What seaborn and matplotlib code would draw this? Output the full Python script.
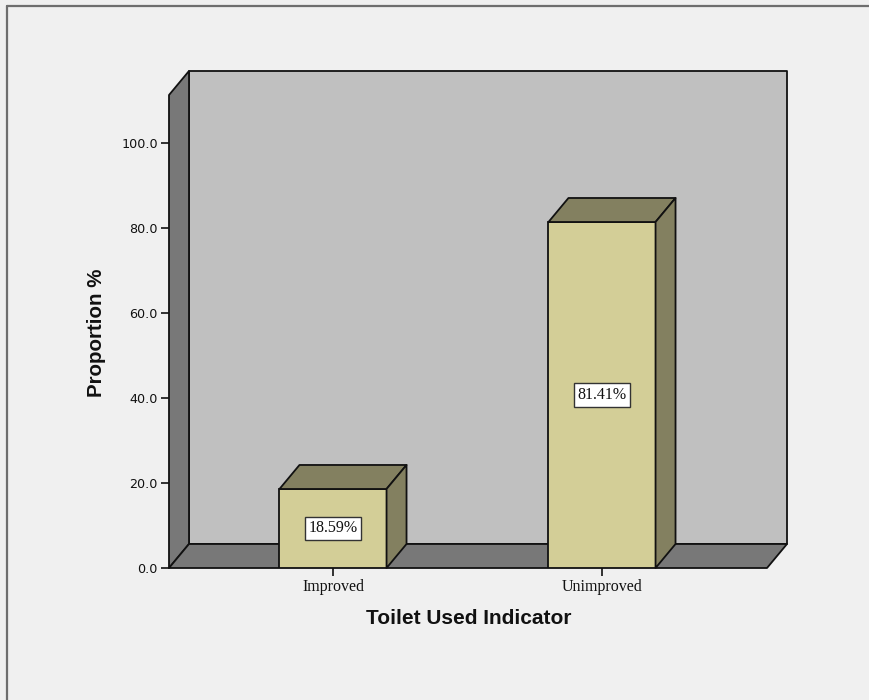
import matplotlib
matplotlib.use("Agg")
import matplotlib.pyplot as plt
from matplotlib.patches import Polygon
from matplotlib.lines import Line2D
import seaborn as sns
import pandas as pd

# Data
categories = ["Improved", "Unimproved"]
proportions = [18.59, 81.41]
y_ticks = [0, 20, 40, 60, 80, 100]

# Colours
bg = "#f0f0f0"
wall_back = "#c0c0c0"
wall_dark = "#787878"
bar_front = "#d3ce97"
bar_shade = "#838060"

sns.set_theme(style="white")
plt.rcParams["font.family"] = ["DejaVu Sans"]

fig = plt.figure(figsize=(8.69, 7.0), dpi=100, facecolor=bg)
ax = fig.add_axes([169 / 869, (700 - 568) / 700, 618 / 869, 497 / 700])
ax.set_facecolor("none")

bar_w = 0.398
dx, dy = 0.0743, 5.65
x_lo, x_hi = -0.6097, 1.6877
y_top = 116.94
floor_right = 1.6134

df = pd.DataFrame({"Toilet Used Indicator": categories, "Proportion %": proportions})
sns.barplot(data=df, x="Toilet Used Indicator", y="Proportion %", width=bar_w,
            color=bar_front, saturation=1, edgecolor="#111111", linewidth=1.3, ax=ax)
for p in ax.patches:
    p.set_zorder(5)

ax.set_xlim(x_lo, x_hi)
ax.set_ylim(0, y_top)

ek = dict(edgecolor="#111111", linewidth=1.3, clip_on=False, joinstyle="round")
# back wall
ax.add_patch(Polygon([(x_lo + dx, dy), (x_hi, dy), (x_hi, y_top), (x_lo + dx, y_top)],
                     facecolor=wall_back, zorder=1, **ek))
# left side wall
ax.add_patch(Polygon([(x_lo, 0), (x_lo + dx, dy), (x_lo + dx, y_top), (x_lo, y_top - dy)],
                     facecolor=wall_dark, zorder=2, **ek))
# floor
ax.add_patch(Polygon([(x_lo, 0), (floor_right, 0), (x_hi, dy), (x_lo + dx, dy)],
                     facecolor=wall_dark, zorder=2, **ek))

# top and side faces of each bar, plus value labels
for i, v in enumerate(proportions):
    x0, x1 = i - bar_w / 2, i + bar_w / 2
    ax.add_patch(Polygon([(x0, v), (x1, v), (x1 + dx, v + dy), (x0 + dx, v + dy)],
                         facecolor=bar_shade, zorder=5, **ek))
    ax.add_patch(Polygon([(x1, 0), (x1 + dx, dy), (x1 + dx, v + dy), (x1, v)],
                         facecolor=bar_shade, zorder=5, **ek))
    ax.text(i, v / 2, f"{v:.2f}%", ha="center", va="center", zorder=6,
            family="Liberation Serif", fontsize=11.5, color="#111111",
            bbox=dict(boxstyle="square,pad=0.22", facecolor="white",
                      edgecolor="#333333", linewidth=1.0))

for s in ax.spines.values():
    s.set_visible(False)

ax.set_yticks(y_ticks)
ax.set_yticklabels([f"{t:.1f}" for t in y_ticks], fontsize=9.2, color="#111111")
ax.set_xticks(range(len(categories)))
ax.set_xticklabels(categories, family="Liberation Serif", fontsize=11.5, color="#111111")
ax.tick_params(axis="both", direction="out", length=6, width=1.2, color="#111111",
               left=True, bottom=True, pad=2)

ax.set_ylabel("Proportion %", family="Liberation Sans", fontweight="bold",
              fontsize=14.8, va="center", color="#111111")
ax.set_xlabel("Toilet Used Indicator", family="Liberation Sans", fontweight="bold",
              fontsize=15, va="center", color="#111111")
ax.yaxis.set_label_coords((97 - 169) / 618, (568 - 333) / 497)
ax.xaxis.set_label_coords((469 - 169) / 618, (568 - 619) / 497)

# outer frame (top and left)
fig.add_artist(Line2D([7.5 / 869, 7.5 / 869], [0, 1 - 6 / 700], transform=fig.transFigure,
                      color="#6e6e6e", linewidth=1.6))
fig.add_artist(Line2D([7 / 869, 1], [1 - 6 / 700, 1 - 6 / 700], transform=fig.transFigure,
                      color="#6e6e6e", linewidth=1.6))

fig.savefig("out.png", dpi=100, facecolor=bg)
